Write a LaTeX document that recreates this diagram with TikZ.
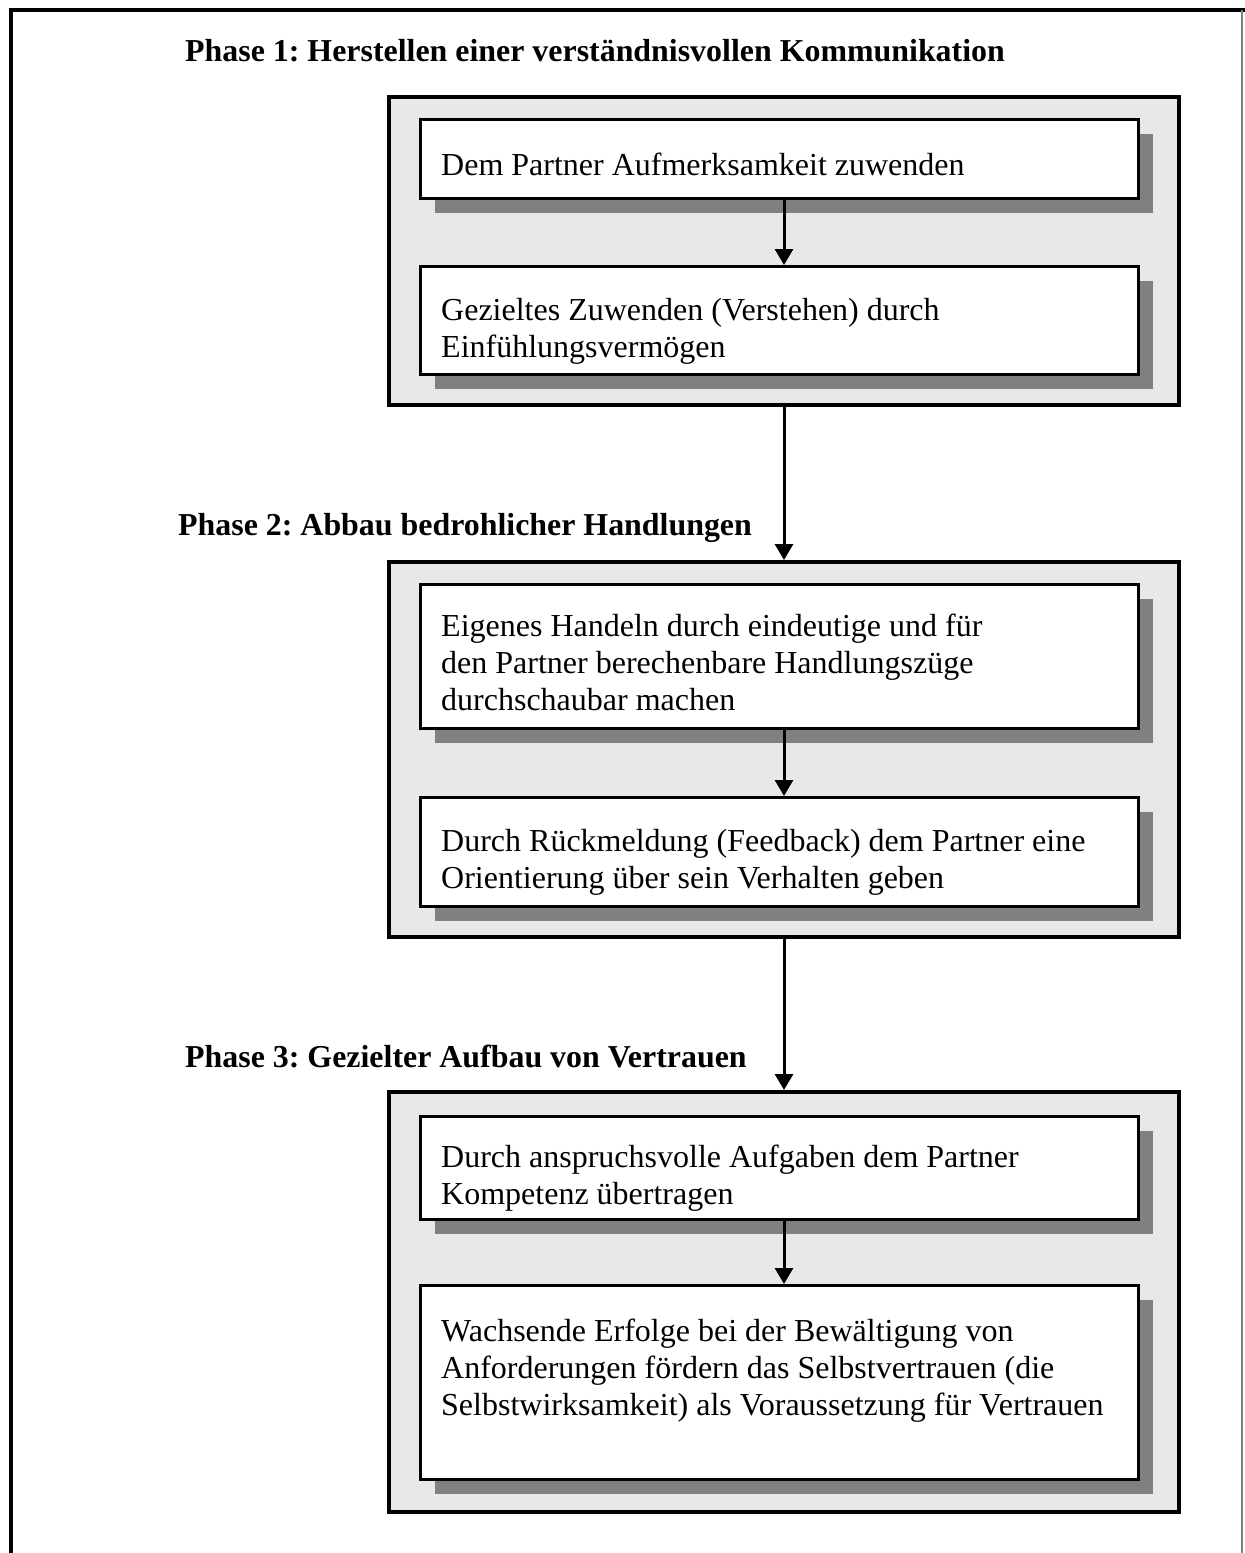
\documentclass[tikz,border=0pt]{standalone}
\usepackage{fontspec}
\setmainfont{Liberation Serif}
\usetikzlibrary{arrows.meta,calc}
\definecolor{panel}{RGB}{232,232,232}
\definecolor{shadowgray}{RGB}{128,128,128}
\frenchspacing
\begin{document}
\begin{tikzpicture}[x=1pt,y=-1pt,
  phasebox/.style={draw=black,line width=4pt,fill=panel,inner sep=0pt,anchor=north west},
  innerbox/.style={draw=black,line width=2.5pt,fill=white,inner sep=0pt,anchor=north west,minimum width=718pt},
  shadowbox/.style={fill=shadowgray,draw=none,inner sep=0pt,anchor=north west,minimum width=718pt},
  bodytext/.style={font=\fontsize{32}{37}\selectfont,align=left,inner sep=0pt,anchor=north west},
  titletext/.style={font=\bfseries\fontsize{31.9}{40}\selectfont,inner sep=0pt,anchor=base west},
  arr/.style={line width=3pt,-{Triangle[width=18pt,length=16pt]}}
]
\useasboundingbox (0,0) rectangle (1245,1553);
% outer frame
\draw[line width=4pt] (11,1553) -- (11,10) -- (1245,10);
\draw[line width=1.5pt,color=gray] (1242,10) -- (1242,1553);

% Titles
\node[titletext] (t1) at (185,61) {Phase 1: Herstellen einer verständnisvollen Kommunikation};
\node[titletext] (t2) at (178,535) {Phase 2: Abbau bedrohlicher Handlungen};
\node[titletext] (t3) at (185,1067) {Phase 3: Gezielter Aufbau von Vertrauen};

% Phase boxes
\node[phasebox,minimum width=790pt,minimum height=308pt] (P1) at (387,95) {};
\node[phasebox,minimum width=790pt,minimum height=375pt] (P2) at (387,560) {};
\node[phasebox,minimum width=790pt,minimum height=420pt] (P3) at (387,1090) {};

% shadows
\node[shadowbox,minimum height=79pt] (s1) at (435,134) {};
\node[shadowbox,minimum height=108pt] (s2) at (435,281) {};
\node[shadowbox,minimum height=144pt] (s3) at (435,599) {};
\node[shadowbox,minimum height=109pt] (s4) at (435,812) {};
\node[shadowbox,minimum height=103pt] (s5) at (435,1131) {};
\node[shadowbox,minimum height=194pt] (s6) at (435,1300) {};

% inner boxes
\node[innerbox,minimum height=79pt] (b1) at (419,118) {};
\node[innerbox,minimum height=108pt] (b2) at (419,265) {};
\node[innerbox,minimum height=144pt] (b3) at (419,583) {};
\node[innerbox,minimum height=109pt] (b4) at (419,796) {};
\node[innerbox,minimum height=103pt] (b5) at (419,1115) {};
\node[innerbox,minimum height=194pt] (b6) at (419,1284) {};

% texts
\node[bodytext] (x1) at (441,153) {Dem Partner Aufmerksamkeit zuwenden};
\node[bodytext] (x2) at (441,298) {Gezieltes Zuwenden (Verstehen) durch\\Einfühlungsvermögen};
\node[bodytext] (x3) at (441,614) {Eigenes Handeln durch eindeutige und für\\den Partner berechenbare Handlungszüge\\durchschaubar machen};
\node[bodytext] (x4) at (441,829) {Durch Rückmeldung (Feedback) dem Partner eine\\Orientierung über sein Verhalten geben};
\node[bodytext] (x5) at (441,1145) {Durch anspruchsvolle Aufgaben dem Partner\\Kompetenz übertragen};
\node[bodytext] (x6) at (441,1319) {Wachsende Erfolge bei der Bewältigung von\\Anforderungen fördern das Selbstvertrauen (die\\Selbstwirksamkeit) als Voraussetzung für Vertrauen};

% arrows
\draw[arr] (P1.south |- b1.south) -- (P1.south |- b2.north);
\draw[arr] (P1.south) -- (P2.north);
\draw[arr] (P2.south |- b3.south) -- (P2.south |- b4.north);
\draw[arr] (P2.south) -- (P3.north);
\draw[arr] (P3.south |- b5.south) -- (P3.south |- b6.north);
\end{tikzpicture}
\end{document}
